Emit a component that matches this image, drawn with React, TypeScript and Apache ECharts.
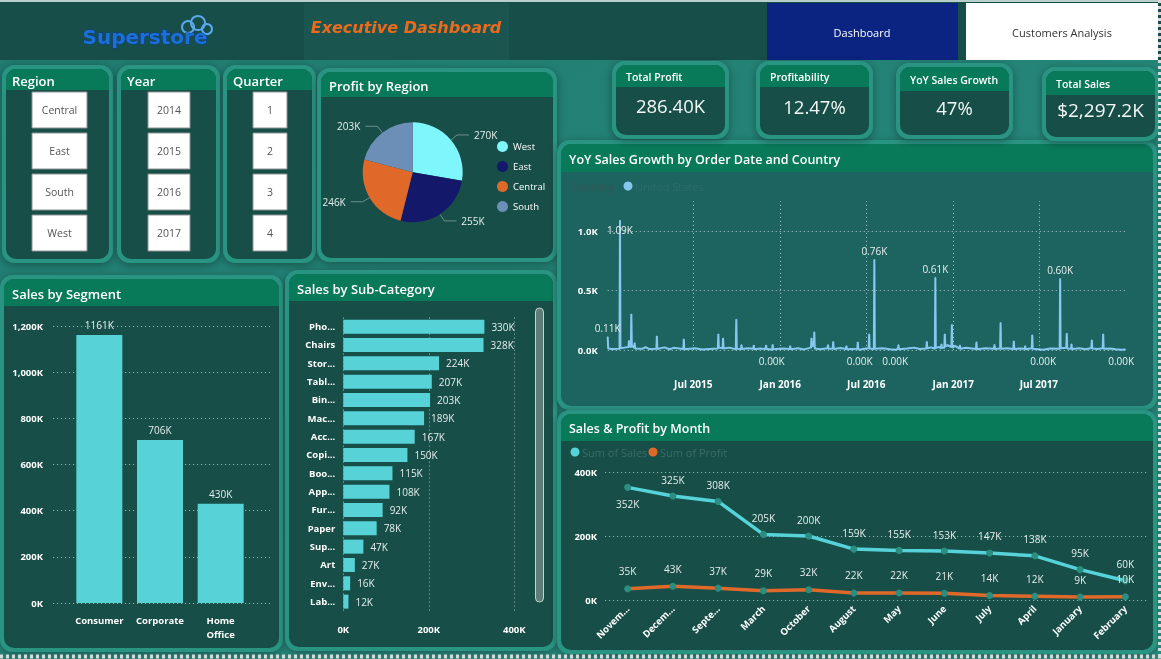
import { useEffect, useRef } from 'react';
import * as echarts from 'echarts';

const FONT = "'Open Sans', 'Noto Sans', sans-serif";

// Slicers
const regionOptions = ['Central', 'East', 'South', 'West'];
const yearOptions = ['2014', '2015', '2016', '2017'];
const quarterOptions = ['1', '2', '3', '4'];

// KPI cards
const kpiTitles = ['Total Profit', 'Profitability', 'YoY Sales Growth', 'Total Sales'];
const kpiValues = ['286.40K', '12.47%', '47%', '$2,297.2K'];

// Profit by region (K)
const regionNames = ['West', 'East', 'Central', 'South'];
const regionProfit = [270, 255, 246, 203];
const regionColors = ['#7ff6fb', '#14186b', '#e0692a', '#6b8fb6'];

// Sales by segment (K)
const segmentNames = ['Consumer', 'Corporate', 'Home Office'];
const segmentSales = [1161, 706, 430];

// Sales by sub-category (K)
const subCategories = ['Phones', 'Chairs', 'Storage', 'Tables', 'Binders', 'Machines', 'Accessories', 'Copiers',
  'Bookcases', 'Appliances', 'Furnishings', 'Paper', 'Supplies', 'Art', 'Envelopes', 'Labels'];
const subCategoryShort = ['Pho...', 'Chairs', 'Stor...', 'Tabl...', 'Bin...', 'Mac...', 'Acc...', 'Copi...',
  'Boo...', 'App...', 'Fur...', 'Paper', 'Sup...', 'Art', 'Env...', 'Lab...'];
const subCategorySales = [330, 328, 224, 207, 203, 189, 167, 150, 115, 108, 92, 78, 47, 27, 16, 12];

// Sales & profit by month (K), sorted by sales
const months = ['November', 'December', 'September', 'March', 'October', 'August', 'May', 'June', 'July',
  'April', 'January', 'February'];
const monthShort = ['Novem...', 'Decem...', 'Septe...', 'March', 'October', 'August', 'May', 'June', 'July',
  'April', 'January', 'February'];
const monthSales = [352, 325, 308, 205, 200, 159, 155, 153, 147, 138, 95, 60];
const monthProfit = [35, 43, 37, 29, 32, 22, 22, 21, 14, 12, 9, 10];

// YoY sales growth by order date (United States)
const yoyAxisLabels: [string, string][] = [
  ['2015-07-01', 'Jul 2015'], ['2016-01-01', 'Jan 2016'], ['2016-07-01', 'Jul 2016'],
  ['2017-01-01', 'Jan 2017'], ['2017-07-01', 'Jul 2017'],
];
const yoyGrowth: [string, number][] = [
  ['2015-01-01', 110], ['2015-01-02', 12], ['2015-01-10', 8], ['2015-01-26', 10], ['2015-01-27', 1090],
  ['2015-01-28', 14], ['2015-02-05', 20], ['2015-02-14', 25], ['2015-02-15', 80], ['2015-02-17', 30],
  ['2015-02-19', 22], ['2015-02-20', 302], ['2015-02-21', 40], ['2015-02-26', 18], ['2015-02-27', 60],
  ['2015-02-28', 12], ['2015-03-15', 10], ['2015-03-22', 25], ['2015-03-30', 8], ['2015-04-14', 10],
  ['2015-04-15', 118], ['2015-04-16', 9], ['2015-05-01', 22], ['2015-05-12', 6], ['2015-05-20', 18],
  ['2015-06-10', 8], ['2015-06-11', 92], ['2015-06-12', 6], ['2015-07-05', 14], ['2015-07-20', 4],
  ['2015-08-05', 8], ['2015-08-22', 12], ['2015-08-23', 134], ['2015-08-24', 20], ['2015-09-01', 15],
  ['2015-09-02', 100], ['2015-09-03', 12], ['2015-09-15', 20], ['2015-09-29', 6], ['2015-09-30', 258],
  ['2015-10-01', 10], ['2015-10-10', 9], ['2015-10-11', 44], ['2015-10-12', 8], ['2015-10-25', 14],
  ['2015-11-05', 10], ['2015-11-06', 40], ['2015-11-07', 6], ['2015-11-20', 12], ['2015-12-01', 8],
  ['2015-12-02', 40], ['2015-12-03', 10], ['2015-12-14', 2], ['2015-12-15', 9], ['2015-12-16', 46],
  ['2015-12-17', 7], ['2016-01-05', 12], ['2016-01-21', 8], ['2016-01-22', 35], ['2016-01-23', 6],
  ['2016-02-08', 15], ['2016-02-20', 5], ['2016-03-06', 20], ['2016-03-07', 100], ['2016-03-09', 30],
  ['2016-03-12', 40], ['2016-03-13', 151], ['2016-03-14', 12], ['2016-03-25', 6], ['2016-04-10', 14],
  ['2016-04-11', 44], ['2016-04-12', 10], ['2016-04-21', 12], ['2016-04-22', 70], ['2016-04-23', 8],
  ['2016-05-08', 16], ['2016-05-19', 8], ['2016-05-20', 35], ['2016-05-21', 6], ['2016-06-12', 10],
  ['2016-06-13', 67], ['2016-06-14', 8], ['2016-06-17', 2], ['2016-06-26', 10], ['2016-07-06', 15],
  ['2016-07-07', 134], ['2016-07-08', 12], ['2016-07-17', 8], ['2016-07-18', 760], ['2016-07-19', 10],
  ['2016-08-05', 14], ['2016-08-20', 6], ['2016-08-31', 2], ['2016-09-06', 9], ['2016-09-07', 44],
  ['2016-09-08', 7], ['2016-09-25', 12], ['2016-10-10', 20], ['2016-10-22', 8], ['2016-11-05', 12],
  ['2016-11-06', 70], ['2016-11-07', 14], ['2016-11-15', 22], ['2016-11-23', 10], ['2016-11-24', 610],
  ['2016-11-25', 18], ['2016-12-02', 25], ['2016-12-06', 14], ['2016-12-07', 50], ['2016-12-08', 20],
  ['2016-12-13', 18], ['2016-12-14', 134], ['2016-12-15', 30], ['2016-12-20', 40], ['2016-12-28', 25],
  ['2016-12-29', 215], ['2016-12-30', 20], ['2017-01-05', 35], ['2017-01-14', 12], ['2017-01-15', 40],
  ['2017-01-16', 10], ['2017-01-28', 18], ['2017-02-18', 8], ['2017-02-19', 67], ['2017-02-20', 6],
  ['2017-03-10', 14], ['2017-03-28', 10], ['2017-03-29', 45], ['2017-03-30', 8], ['2017-04-10', 12],
  ['2017-04-11', 230], ['2017-04-12', 10], ['2017-04-25', 14], ['2017-05-08', 8], ['2017-05-09', 75],
  ['2017-05-10', 9], ['2017-05-22', 12], ['2017-06-01', 10], ['2017-06-02', 35], ['2017-06-03', 6],
  ['2017-06-16', 14], ['2017-06-17', 126], ['2017-06-18', 10], ['2017-07-10', 2], ['2017-07-25', 12],
  ['2017-08-14', 10], ['2017-08-15', 600], ['2017-08-16', 14], ['2017-08-28', 18], ['2017-08-29', 140],
  ['2017-08-30', 12], ['2017-09-07', 10], ['2017-09-08', 50], ['2017-09-09', 8], ['2017-09-25', 14],
  ['2017-10-08', 6], ['2017-10-20', 16], ['2017-10-21', 84], ['2017-10-22', 12], ['2017-11-02', 8],
  ['2017-11-13', 14], ['2017-11-14', 134], ['2017-11-15', 10], ['2017-11-30', 12], ['2017-12-10', 6],
  ['2017-12-22', 2], ['2017-12-31', 5],
];
const yoyLabelAbove = ['2015-01-01', '2016-07-18', '2016-11-24', '2017-08-15'];
const yoyLabelInside = ['2015-01-27'];
const yoyLabelBelow = ['2015-12-14', '2016-06-17', '2016-08-31', '2017-07-10', '2017-12-22'];

const ts = (s: string) => {
  const [y, m, d] = s.split('-').map(Number);
  return new Date(y, m - 1, d).getTime();
};

const COLORS = {
  frame: '#2c9483',
  panel: '#174e48',
  panelLight: '#1d6461',
  header: '#087a5a',
  topBar: '#174e49',
  bar: '#57d3d8',
  sales: '#56d3d8',
  profit: '#e0692a',
  spike: '#88c8f0',
};

function buildGraphics() {
  const els: any[] = [];
  const Z = -1;
  const rect = (x: number, y: number, w: number, h: number, style: any, r: any = 0) =>
    els.push({ type: 'rect', z: Z, shape: { x, y, width: w, height: h, r }, style });
  const text = (x: number, y: number, t: string, style: any) =>
    els.push({
      type: 'text', z: Z, x, y,
      style: {
        text: t, fontFamily: FONT, fill: '#ffffff', fontSize: 12,
        align: 'left', verticalAlign: 'middle', textAlign: 'left', textVerticalAlign: 'middle',
        ...style,
        ...(style.align ? { textAlign: style.align } : {}),
      },
    });

  const panel = (x: number, y: number, w: number, h: number, title: string, headerH: number,
    opts: { fill?: string; titleSize?: number; titleDx?: number } = {}) => {
    rect(x, y, w, h, { fill: COLORS.frame, shadowBlur: 8, shadowColor: 'rgba(0,0,0,0.35)', shadowOffsetY: 2 }, 13);
    rect(x + 4, y + 4, w - 8, h - 8, { fill: opts.fill || COLORS.panel }, 10);
    rect(x + 4, y + 4, w - 8, headerH, { fill: COLORS.header }, [10, 10, 0, 0]);
    text(x + (opts.titleDx ?? 12), y + 4 + headerH / 2 + 1, title, {
      fontSize: opts.titleSize ?? 13, fontWeight: 600,
    });
  };

  // page background
  rect(0, 0, 1161, 659, {
    fill: new echarts.graphic.LinearGradient(0, 0, 1, 1, [
      { offset: 0, color: '#1f7a6f' },
      { offset: 1, color: '#2a8e80' },
    ]),
  });

  // top bar
  rect(0, 0, 1161, 60, { fill: COLORS.topBar });
  rect(0, 0, 1161, 2, { fill: '#b9cfcc' });
  rect(304, 3, 205, 57, { fill: '#1b5550' });

  // logo
  els.push({ type: 'circle', z: Z, shape: { cx: 188, cy: 27, r: 6 }, style: { fill: 'none', stroke: '#5aa9ea', lineWidth: 2 } });
  els.push({ type: 'circle', z: Z, shape: { cx: 198, cy: 23, r: 7 }, style: { fill: 'none', stroke: '#5aa9ea', lineWidth: 2 } });
  els.push({ type: 'circle', z: Z, shape: { cx: 207, cy: 29, r: 5 }, style: { fill: 'none', stroke: '#5aa9ea', lineWidth: 2 } });
  text(145, 37, 'Superstore', {
    align: 'center', fontFamily: "'DejaVu Sans', sans-serif", fontWeight: 'bold', fontSize: 20,
    fill: '#1d6fd8', stroke: '#0c3d96', lineWidth: 0.8,
  });
  text(406, 27, 'Executive Dashboard', {
    align: 'center', fontFamily: "'DejaVu Sans', sans-serif", fontWeight: 'bold', fontStyle: 'italic',
    fontSize: 16, fill: '#ec6a1c',
  });

  // navigation buttons
  rect(767, 3, 191, 57, { fill: '#0b2482' });
  text(862, 32, 'Dashboard', { align: 'center', fontSize: 11 });
  rect(966, 3, 192, 57, { fill: '#ffffff' });
  text(1062, 32, 'Customers Analysis', { align: 'center', fontSize: 11, fill: '#333333' });

  // slicers
  const slicers: [number, number, string, string[], number, number][] = [
    [2, 111, 'Region', regionOptions, 32, 55],
    [117, 103, 'Year', yearOptions, 148, 42],
    [223, 93, 'Quarter', quarterOptions, 253, 34],
  ];
  slicers.forEach(([px, pw, title, items, bx, bw]) => {
    panel(px, 65, pw, 198, title, 21, { titleDx: 10 });
    items.forEach((it, i) => {
      const by = 92 + i * 41;
      rect(bx, by, bw, 36, { fill: '#ffffff', stroke: '#8e9393', lineWidth: 1 });
      text(bx + bw / 2, by + 18, it, { align: 'center', fontSize: 10.5, fill: '#555555' });
    });
  });

  // chart panels
  panel(317, 68, 240, 194, 'Profit by Region', 25);
  panel(0, 275, 283, 377, 'Sales by Segment', 27);
  panel(285, 270, 272, 381, 'Sales by Sub-Category', 27);
  panel(557, 140, 600, 270, 'YoY Sales Growth by Order Date and Country', 28, { fill: COLORS.panelLight, titleSize: 12.5 });
  panel(557, 410, 600, 244, 'Sales & Profit by Month', 27, { titleSize: 12.5 });

  // KPI cards
  const cards: [number, number, number, number, number, number, number][] = [
    [612, 61, 117, 78, 22, 105, 18.5],
    [756, 61, 117, 78, 22, 106, 18.5],
    [896, 63, 117, 76, 24, 107, 18.5],
    [1042, 67, 117, 74, 24, 110, 19],
  ];
  cards.forEach(([x, y, w, h, hh, vy, vs], i) => {
    panel(x, y, w, h, kpiTitles[i], hh, { titleSize: 10.5, titleDx: 14 });
    text(x + w / 2, vy, kpiValues[i], { align: 'center', fontSize: vs, fill: '#f4f8f7' });
  });

  // scrollbar of the sub-category list
  rect(535.5, 308, 8, 294, { fill: '#5e7c78', stroke: '#c9d1d0', lineWidth: 1 }, 4);

  // legends drawn as plain marks
  text(570, 186, 'Country', { fontSize: 11, fontWeight: 'bold', fill: '#2c5b58' });
  els.push({ type: 'circle', z: Z, shape: { cx: 628, cy: 186, r: 4.5 }, style: { fill: '#86c5ec' } });
  text(635, 186, 'United States', { fontSize: 11, fill: '#2f6a67' });

  els.push({ type: 'circle', z: Z, shape: { cx: 575, cy: 452, r: 4.5 }, style: { fill: COLORS.sales } });
  text(582, 452, 'Sum of Sales', { fontSize: 11, fill: '#3b6c67' });
  els.push({ type: 'circle', z: Z, shape: { cx: 653, cy: 452, r: 4.5 }, style: { fill: COLORS.profit } });
  text(660, 452, 'Sum of Profit', { fontSize: 11, fill: '#3b6c67' });

  // selection border on the right and bottom edges
  els.push({ type: 'line', z: 50, shape: { x1: 0, y1: 656.5, x2: 1161, y2: 656.5 }, style: { stroke: '#d5dcdc', lineWidth: 4, lineDash: [3, 3] } });
  els.push({ type: 'line', z: 50, shape: { x1: 1159.5, y1: 0, x2: 1159.5, y2: 659 }, style: { stroke: '#d5dcdc', lineWidth: 3, lineDash: [3, 3] } });

  return els;
}

function buildOption(): any {
  const dotted = { color: 'rgba(255,255,255,0.55)', width: 1, type: [1.2, 2.8] };
  const axisText = { color: '#ffffff', fontSize: 9.5, fontWeight: 'bold', fontFamily: FONT };
  const valueLabel = { color: '#e6eeed', fontSize: 10, fontFamily: FONT };

  const yoyData = yoyGrowth.map(([d, v]) => {
    const item: any = { value: [ts(d), v] };
    if (yoyLabelAbove.includes(d)) item.label = { show: true, position: 'top', distance: 3 };
    else if (yoyLabelInside.includes(d)) item.label = { show: true, position: 'bottom', distance: 4 };
    else if (yoyLabelBelow.includes(d)) item.label = { show: true, position: 'bottom', distance: 6 };
    return item;
  });

  return {
    animation: false,
    backgroundColor: 'transparent',
    textStyle: { fontFamily: FONT },
    graphic: { elements: buildGraphics() },
    legend: {
      data: regionNames,
      orient: 'vertical',
      left: 492,
      top: 136,
      itemGap: 9,
      itemWidth: 11,
      itemHeight: 11,
      icon: 'circle',
      selectedMode: false,
      textStyle: { color: '#ffffff', fontSize: 9.5, fontFamily: FONT },
    },
    grid: [
      { left: 53, top: 326, width: 217, height: 277, outerBoundsMode: 'none' },
      { left: 69, top: 326, width: 182, height: 277, outerBoundsMode: 'none' },
      { left: 343.3, top: 317.5, width: 171, height: 293.3, outerBoundsMode: 'none' },
      { left: 607.7, top: 201.25, width: 517.7, height: 148.75, outerBoundsMode: 'none' },
      { left: 605, top: 472, width: 543, height: 128, outerBoundsMode: 'none' },
    ],
    xAxis: [
      { gridIndex: 0, type: 'value', min: 0, max: 1, show: false },
      {
        gridIndex: 1, type: 'category', data: segmentNames,
        axisLine: { show: false }, axisTick: { show: false },
        axisLabel: { ...axisText, margin: 10, lineHeight: 14, interval: 0, formatter: (v: string) => v.replace(' ', '\n') },
      },
      {
        gridIndex: 2, type: 'value', min: 0, max: 400, interval: 200,
        axisLine: { show: false }, axisTick: { show: false },
        axisLabel: { ...axisText, margin: 14, formatter: (v: number) => `${v}K` },
        splitLine: { show: true, lineStyle: dotted },
      },
      { gridIndex: 3, type: 'time', min: ts('2015-01-01'), max: ts('2017-12-31'), show: false },
      {
        gridIndex: 4, type: 'category', data: months, boundaryGap: true,
        axisLine: { show: false }, axisTick: { show: false },
        axisLabel: { ...axisText, rotate: 45, margin: 7, interval: 0, formatter: (_v: string, i: number) => monthShort[i] },
      },
    ],
    yAxis: [
      {
        gridIndex: 0, type: 'value', min: 0, max: 1200, interval: 200,
        axisLine: { show: false }, axisTick: { show: false },
        axisLabel: { ...axisText, margin: 10, formatter: (v: number) => `${v.toLocaleString('en-US')}K` },
        splitLine: { show: true, lineStyle: dotted },
      },
      { gridIndex: 1, type: 'value', min: 0, max: 1200, show: false },
      {
        gridIndex: 2, type: 'category', data: subCategories, inverse: true,
        axisLine: { show: false }, axisTick: { show: false },
        axisLabel: { ...axisText, margin: 8, interval: 0, formatter: (_v: string, i: number) => subCategoryShort[i] },
      },
      {
        gridIndex: 3, type: 'value', min: 0, max: 1250, interval: 250,
        axisLine: { show: false }, axisTick: { show: false },
        axisLabel: { ...axisText, margin: 10, formatter: (v: number) => (v % 500 === 0 ? `${(v / 1000).toFixed(1)}K` : '') },
        splitLine: { show: true, lineStyle: { ...dotted, color: ['rgba(255,255,255,0.55)', 'rgba(0,0,0,0)'] } },
      },
      {
        gridIndex: 4, type: 'value', min: 0, max: 400, interval: 200,
        axisLine: { show: false }, axisTick: { show: false },
        axisLabel: { ...axisText, margin: 8, formatter: (v: number) => `${v}K` },
        splitLine: { show: true, lineStyle: dotted },
      },
    ],
    series: [
      {
        name: 'Sales by Segment', type: 'bar', xAxisIndex: 1, yAxisIndex: 1,
        data: segmentSales, barWidth: 46,
        itemStyle: { color: COLORS.bar },
        label: { show: true, position: 'top', distance: 5, ...valueLabel, formatter: (p: any) => `${p.value}K` },
      },
      {
        name: 'Sales by Sub-Category', type: 'bar', xAxisIndex: 2, yAxisIndex: 2,
        data: subCategorySales, barWidth: 14,
        itemStyle: { color: COLORS.bar },
        label: { show: true, position: 'right', distance: 7, ...valueLabel, formatter: (p: any) => `${p.value}K` },
      },
      {
        name: 'Profit by Region', type: 'pie', center: [412.7, 172.3], radius: 50,
        startAngle: 90, clockwise: true,
        data: regionNames.map((n, i) => ({ name: n, value: regionProfit[i], itemStyle: { color: regionColors[i] } })),
        label: { show: true, ...valueLabel, formatter: (p: any) => `${p.value}K` },
        labelLine: { show: true, length: 8, length2: 12, lineStyle: { color: '#6f8f8b', width: 1 } },
      },
      {
        name: 'YoY Sales Growth', type: 'line', xAxisIndex: 3, yAxisIndex: 3,
        data: yoyData, symbol: 'circle', symbolSize: 1, showSymbol: true,
        itemStyle: { color: COLORS.spike },
        lineStyle: { color: COLORS.spike, width: 2 },
        label: { show: false, ...valueLabel, formatter: (p: any) => `${(p.value[1] / 1000).toFixed(2)}K` },
        markLine: {
          silent: true, symbol: 'none',
          lineStyle: dotted,
          label: { show: true, position: 'start', distance: 29, ...axisText, fontSize: 10, formatter: '{b}' },
          data: yoyAxisLabels.map(([d, name]) => ({ xAxis: ts(d), name })),
        },
      },
      {
        name: 'Sum of Sales', type: 'line', xAxisIndex: 4, yAxisIndex: 4,
        data: monthSales.map((v, i) => (i === 0 ? { value: v, label: { position: 'bottom' } } : v)),
        symbol: 'circle', symbolSize: 7,
        itemStyle: { color: '#2b8e80' },
        lineStyle: { color: COLORS.sales, width: 3.5 },
        label: { show: true, position: 'top', distance: 8, ...valueLabel, formatter: (p: any) => `${p.value}K` },
      },
      {
        name: 'Sum of Profit', type: 'line', xAxisIndex: 4, yAxisIndex: 4,
        data: monthProfit,
        symbol: 'circle', symbolSize: 7,
        itemStyle: { color: '#2b8e80' },
        lineStyle: { color: COLORS.profit, width: 3.5 },
        label: { show: true, position: 'top', distance: 9, ...valueLabel, formatter: (p: any) => `${p.value}K` },
      },
    ],
  };
}

export default function App() {
  const ref = useRef<HTMLDivElement>(null);
  useEffect(() => {
    const chart = echarts.init(ref.current!, null, { renderer: 'svg', width: 1161, height: 659 });
    chart.setOption(buildOption());
    return () => chart.dispose();
  }, []);
  return <div ref={ref} style={{ position: 'fixed', left: 0, top: 0, width: 1161, height: 659 }} />;
}
